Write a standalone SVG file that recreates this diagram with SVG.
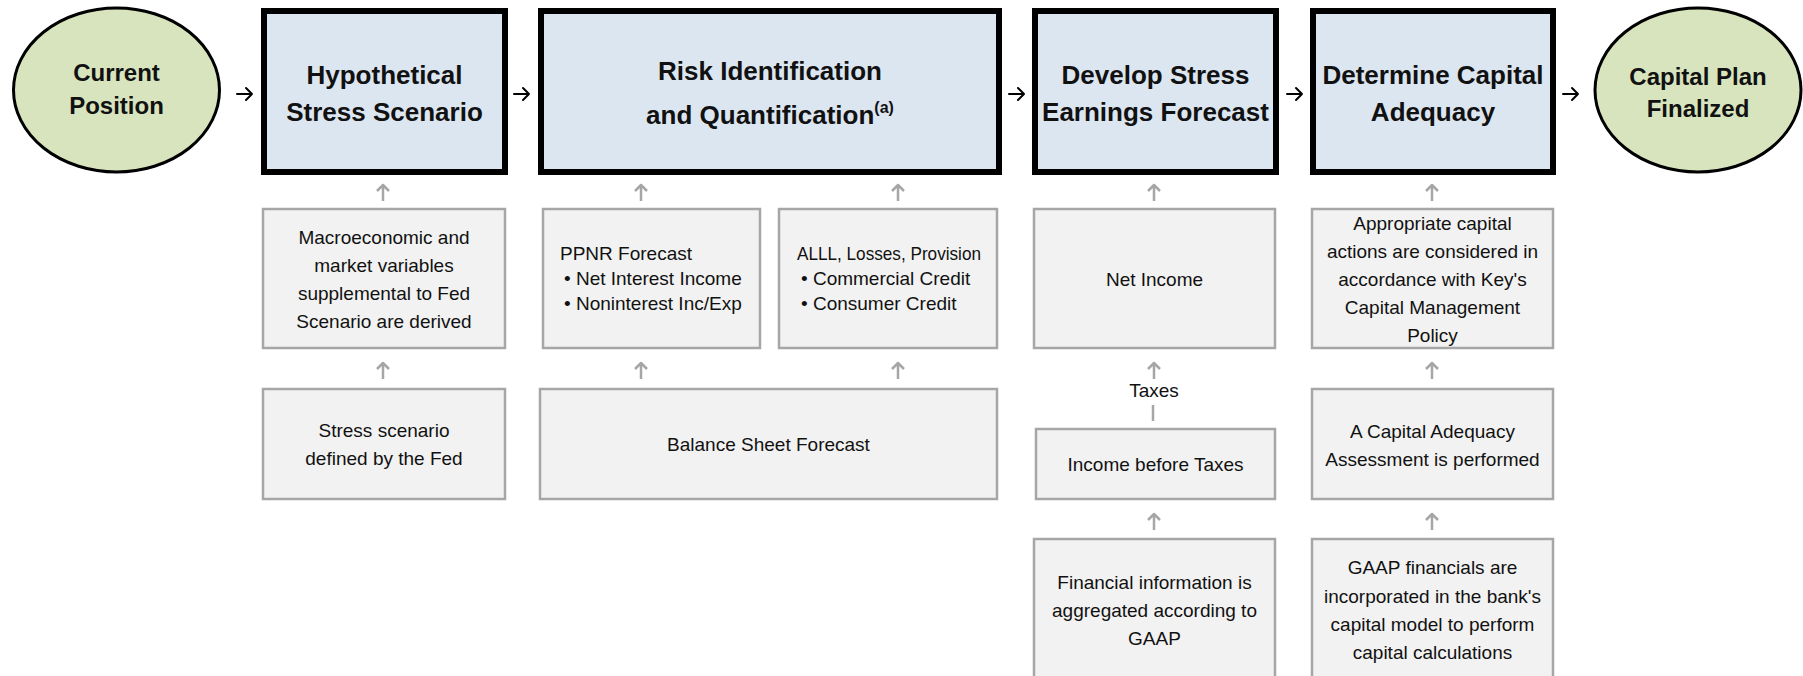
<svg xmlns="http://www.w3.org/2000/svg" xmlns:xlink="http://www.w3.org/1999/xlink" width="1803" height="676" viewBox="0 0 1803 676">
  <style>
    .oval { fill: #d7e4bd; stroke: #000; stroke-width: 3; }
    .stage { fill: #dce6f1; stroke: #000; stroke-width: 6; }
    .step { fill: #f2f2f2; stroke: #a6a6a6; stroke-width: 2.5; }
    .title { font-family: "Liberation Sans", Arial, sans-serif; font-weight: bold; font-size: 26px; fill: #111; text-anchor: middle; }
    .otitle { font-family: "Liberation Sans", Arial, sans-serif; font-weight: bold; font-size: 24px; fill: #111; text-anchor: middle; }
    .lbl { font-family: "Liberation Sans", Arial, sans-serif; font-size: 19px; fill: #111; text-anchor: middle; }
    .lbl-l { font-family: "Liberation Sans", Arial, sans-serif; font-size: 19px; fill: #111; }
    .flow { fill: none; stroke: #000; stroke-width: 2; stroke-linecap: round; stroke-linejoin: round; }
    .feed { fill: none; stroke: #a6a6a6; stroke-width: 2.5; stroke-linejoin: round; }
  </style>
  <defs>
    <!-- small upward feed arrow, tip at the origin -->
    <path id="up" d="M0,17 V1 M-6,7 L0,1 L6,7"/>
    <!-- small rightward flow arrow, tip at the origin -->
    <path id="right" d="M-16,0 H-1 M-7,-6 L-1,0 L-7,6"/>
  </defs>

  <g id="connectors">
    <!-- main flow arrows -->
    <use xlink:href="#right" class="flow" x="253" y="94"/>
    <use xlink:href="#right" class="flow" x="530" y="94"/>
    <use xlink:href="#right" class="flow" x="1025" y="94"/>
    <use xlink:href="#right" class="flow" x="1303" y="94"/>
    <use xlink:href="#right" class="flow" x="1579" y="94"/>
    <!-- feeds into the stage boxes -->
    <use xlink:href="#up" class="feed" x="383" y="184"/>
    <use xlink:href="#up" class="feed" x="641" y="184"/>
    <use xlink:href="#up" class="feed" x="898" y="184"/>
    <use xlink:href="#up" class="feed" x="1154" y="184"/>
    <use xlink:href="#up" class="feed" x="1432" y="184"/>
    <!-- second row feeds -->
    <use xlink:href="#up" class="feed" x="383" y="362"/>
    <use xlink:href="#up" class="feed" x="641" y="362"/>
    <use xlink:href="#up" class="feed" x="898" y="362"/>
    <use xlink:href="#up" class="feed" x="1154" y="362"/>
    <use xlink:href="#up" class="feed" x="1432" y="362"/>
    <!-- third row feeds -->
    <use xlink:href="#up" class="feed" x="1154" y="513"/>
    <use xlink:href="#up" class="feed" x="1432" y="513"/>
    <!-- taxes link -->
    <path class="feed" d="M1153,405 V421"/>
    <text class="lbl" x="1154" y="397">Taxes</text>
  </g>

  <g id="current-position">
    <ellipse class="oval" cx="116.5" cy="90" rx="103" ry="82"/>
    <text class="otitle" x="116.5" y="81">Current</text>
    <text class="otitle" x="116.5" y="114">Position</text>
  </g>

  <g id="stress-scenario">
    <rect class="stage" x="264" y="11" width="241" height="161"/>
    <text class="title" x="384.5" y="84">Hypothetical</text>
    <text class="title" x="384.5" y="121">Stress Scenario</text>
  </g>

  <g id="risk-identification">
    <rect class="stage" x="541" y="11" width="458" height="161"/>
    <text class="title" x="770" y="80">Risk Identification</text>
    <text class="title" x="770" y="124">and Quantification<tspan font-size="16" dy="-11">(a)</tspan></text>
  </g>

  <g id="earnings-forecast">
    <rect class="stage" x="1035" y="11" width="241" height="161"/>
    <text class="title" x="1155.5" y="84">Develop Stress</text>
    <text class="title" x="1155.5" y="121">Earnings Forecast</text>
  </g>

  <g id="capital-adequacy">
    <rect class="stage" x="1313" y="11" width="240" height="161"/>
    <text class="title" x="1433" y="84">Determine Capital</text>
    <text class="title" x="1433" y="121">Adequacy</text>
  </g>

  <g id="capital-plan">
    <ellipse class="oval" cx="1698" cy="90" rx="103" ry="82"/>
    <text class="otitle" x="1698" y="85">Capital Plan</text>
    <text class="otitle" x="1698" y="117">Finalized</text>
  </g>

  <g id="macro-variables">
    <rect class="step" x="263" y="209" width="242" height="139"/>
    <text class="lbl" x="384" y="244">Macroeconomic and</text>
    <text class="lbl" x="384" y="272">market variables</text>
    <text class="lbl" x="384" y="300">supplemental to Fed</text>
    <text class="lbl" x="384" y="328">Scenario are derived</text>
  </g>

  <g id="ppnr-forecast">
    <rect class="step" x="543" y="209" width="217" height="139"/>
    <text class="lbl-l" x="560" y="260">PPNR Forecast</text>
    <text class="lbl-l" x="564" y="285">•  Net Interest Income</text>
    <text class="lbl-l" x="564" y="310">•  Noninterest Inc/Exp</text>
  </g>

  <g id="alll-forecast">
    <rect class="step" x="779" y="209" width="218" height="139"/>
    <text class="lbl-l" x="797" y="260" textLength="184" lengthAdjust="spacingAndGlyphs">ALLL, Losses, Provision</text>
    <text class="lbl-l" x="801" y="285">•  Commercial Credit</text>
    <text class="lbl-l" x="801" y="310">•  Consumer Credit</text>
  </g>

  <g id="net-income">
    <rect class="step" x="1034" y="209" width="241" height="139"/>
    <text class="lbl" x="1154.5" y="286">Net Income</text>
  </g>

  <g id="capital-actions">
    <rect class="step" x="1312" y="209" width="241" height="139"/>
    <text class="lbl" x="1432.5" y="230">Appropriate capital</text>
    <text class="lbl" x="1432.5" y="258">actions are considered in</text>
    <text class="lbl" x="1432.5" y="286">accordance with Key's</text>
    <text class="lbl" x="1432.5" y="314">Capital Management</text>
    <text class="lbl" x="1432.5" y="342">Policy</text>
  </g>

  <g id="fed-scenario">
    <rect class="step" x="263" y="389" width="242" height="110"/>
    <text class="lbl" x="384" y="437">Stress scenario</text>
    <text class="lbl" x="384" y="465">defined by the Fed</text>
  </g>

  <g id="balance-sheet">
    <rect class="step" x="540" y="389" width="457" height="110"/>
    <text class="lbl" x="768.5" y="451">Balance Sheet Forecast</text>
  </g>

  <g id="income-before-taxes">
    <rect class="step" x="1036" y="429" width="239" height="70"/>
    <text class="lbl" x="1155.5" y="471">Income before Taxes</text>
  </g>

  <g id="adequacy-assessment">
    <rect class="step" x="1312" y="389" width="241" height="110"/>
    <text class="lbl" x="1432.5" y="438">A Capital Adequacy</text>
    <text class="lbl" x="1432.5" y="466">Assessment is performed</text>
  </g>

  <g id="gaap-aggregation">
    <rect class="step" x="1034" y="539" width="241" height="150"/>
    <text class="lbl" x="1154.5" y="589">Financial information is</text>
    <text class="lbl" x="1154.5" y="617">aggregated according to</text>
    <text class="lbl" x="1154.5" y="645">GAAP</text>
  </g>

  <g id="capital-model">
    <rect class="step" x="1312" y="539" width="241" height="150"/>
    <text class="lbl" x="1432.5" y="574">GAAP financials are</text>
    <text class="lbl" x="1432.5" y="603">incorporated in the bank's</text>
    <text class="lbl" x="1432.5" y="631">capital model to perform</text>
    <text class="lbl" x="1432.5" y="659">capital calculations</text>
  </g>
</svg>
